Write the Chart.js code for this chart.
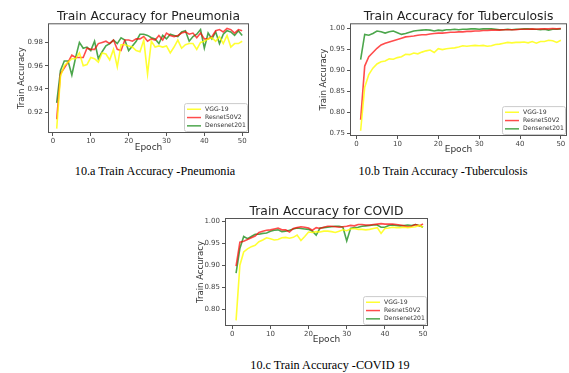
<!DOCTYPE html>
<html>
<head>
<meta charset="utf-8">
<script src="https://cdn.jsdelivr.net/npm/chart.js@4.4.1/dist/chart.umd.min.js"></script>
<style>
body { margin: 0; background: #fff; width: 569px; height: 373px; position: relative; overflow: hidden; }
canvas { position: absolute; }
.cap { position: absolute; font-family: "Liberation Serif", serif; font-size: 12.2px; color: #000; white-space: nowrap; transform: translate(-50%, -50%); }
</style>
</head>
<body>
<canvas id="chartA" style="left:0px;top:0px" width="262" height="160"></canvas>
<canvas id="chartB" style="left:300px;top:0px" width="269" height="163"></canvas>
<canvas id="chartC" style="left:170px;top:195px" width="270" height="160"></canvas>
<div class="cap" style="left:155px;top:171px">10.a Train Accuracy -Pneumonia</div>
<div class="cap" style="left:443px;top:171px">10.b Train Accuracy -Tuberculosis</div>
<div class="cap" style="left:330px;top:365px">10.c Train Accuracy -COVID 19</div>
<script>
// epochs 1..50
const epochs = [1,2,3,4,5,6,7,8,9,10,11,12,13,14,15,16,17,18,19,20,21,22,23,24,25,
26,27,28,29,30,31,32,33,34,35,36,37,38,39,40,41,42,43,44,45,46,47,48,49,50];
const modelNames = ['VGG-19', 'Resnet50V2', 'Densenet201'];
const xTicks = [0, 10, 20, 30, 40, 50];

// Pneumonia
const pneuVgg = [0.906,0.951,0.960,0.963,0.966,0.966,0.971,0.960,0.961,0.967,0.966,0.963,0.971,0.970,0.965,0.974,0.959,0.978,0.978,0.977,
0.976,0.973,0.972,0.982,0.953,0.981,0.976,0.977,0.976,0.977,0.971,0.976,0.982,0.975,0.978,0.979,0.979,0.974,0.980,0.981,
0.983,0.984,0.981,0.985,0.979,0.986,0.976,0.979,0.979,0.981];
const pneuResnet = [0.914,0.953,0.958,0.963,0.969,0.967,0.967,0.967,0.975,0.974,0.974,0.979,0.980,0.981,0.979,0.982,0.974,0.973,0.982,0.982,
0.981,0.983,0.983,0.985,0.981,0.983,0.982,0.986,0.982,0.988,0.986,0.985,0.986,0.988,0.989,0.987,0.988,0.984,0.988,0.983,
0.983,0.985,0.990,0.991,0.989,0.992,0.991,0.988,0.991,0.990];
const pneuDense = [0.928,0.956,0.964,0.964,0.952,0.967,0.980,0.975,0.976,0.973,0.981,0.966,0.972,0.977,0.979,0.982,0.979,0.984,0.982,0.973,
0.977,0.981,0.987,0.987,0.986,0.984,0.983,0.979,0.986,0.983,0.987,0.986,0.985,0.989,0.990,0.981,0.985,0.987,0.991,0.975,
0.988,0.983,0.989,0.979,0.987,0.990,0.989,0.986,0.990,0.986];
const pneuYTicks = [0.92, 0.94, 0.96, 0.98];

// Tuberculosis
const tbVgg = [0.757,0.860,0.890,0.905,0.915,0.920,0.922,0.927,0.926,0.930,0.932,0.938,0.937,0.941,0.939,0.943,0.946,0.948,0.942,0.951,
0.949,0.951,0.952,0.953,0.955,0.958,0.957,0.958,0.959,0.958,0.959,0.957,0.958,0.961,0.962,0.964,0.966,0.965,0.966,0.966,
0.967,0.965,0.968,0.964,0.968,0.968,0.971,0.970,0.966,0.971];
const tbResnet = [0.783,0.910,0.932,0.942,0.952,0.960,0.964,0.967,0.970,0.973,0.976,0.979,0.980,0.981,0.983,0.984,0.984,0.986,0.987,0.988,
0.988,0.989,0.990,0.990,0.991,0.991,0.992,0.992,0.993,0.993,0.994,0.994,0.995,0.995,0.995,0.996,0.996,0.996,0.996,0.997,
0.997,0.997,0.998,0.997,0.998,0.998,0.998,0.999,0.998,0.999];
const tbDense = [0.925,0.985,0.983,0.987,0.993,0.991,0.988,0.991,0.993,0.989,0.985,0.987,0.990,0.993,0.994,0.995,0.996,0.995,0.993,0.995,
0.994,0.996,0.996,0.997,0.996,0.997,0.997,0.998,0.998,0.997,0.998,0.998,0.998,0.997,0.996,0.996,0.997,0.996,0.997,0.997,
0.998,0.998,0.997,0.997,0.996,0.997,0.995,0.997,0.997,0.998];
const tbYTicks = [0.75, 0.80, 0.85, 0.90, 0.95, 1.00];

// COVID
const covVgg = [0.775,0.900,0.930,0.937,0.942,0.945,0.953,0.957,0.962,0.960,0.957,0.958,0.962,0.963,0.961,0.963,0.968,0.956,0.965,0.975,
0.974,0.976,0.975,0.977,0.977,0.976,0.974,0.977,0.980,0.978,0.982,0.983,0.981,0.981,0.980,0.981,0.983,0.985,0.972,0.983,
0.984,0.986,0.985,0.985,0.986,0.985,0.986,0.987,0.990,0.986];
const covResnet = [0.898,0.952,0.954,0.958,0.962,0.966,0.974,0.977,0.979,0.980,0.982,0.984,0.980,0.980,0.975,0.983,0.985,0.987,0.986,0.984,
0.979,0.985,0.983,0.986,0.988,0.988,0.987,0.986,0.987,0.988,0.990,0.989,0.992,0.992,0.991,0.991,0.992,0.993,0.994,0.993,
0.993,0.993,0.992,0.991,0.989,0.987,0.988,0.992,0.989,0.993];
const covDense = [0.882,0.938,0.965,0.960,0.965,0.970,0.970,0.972,0.973,0.977,0.979,0.980,0.976,0.977,0.979,0.982,0.984,0.983,0.982,0.981,
0.977,0.968,0.984,0.985,0.986,0.987,0.988,0.988,0.986,0.955,0.983,0.985,0.986,0.988,0.989,0.990,0.991,0.991,0.986,0.986,
0.990,0.991,0.990,0.989,0.990,0.991,0.990,0.992,0.990,0.986];
const covYTicks = [0.80, 0.85, 0.90, 0.95, 1.00];

const lineColors = ['rgba(255,255,0,0.8)', 'rgba(255,0,0,0.7)', 'rgba(0,128,0,0.7)'];
const fontFamily = '"DejaVu Sans", sans-serif';

// matplotlib style frame around the axes
const framePlugin = {
  id: 'frame',
  afterDraw(chart) {
    const a = chart.chartArea, ctx = chart.ctx;
    ctx.save();
    ctx.strokeStyle = '#555';
    ctx.lineWidth = 1;
    ctx.strokeRect(a.left + 0.5, a.top + 0.5, a.right - a.left - 1, a.bottom - a.top - 1);
    ctx.restore();
  }
};

// legend box in the lower right corner of the axes
const innerLegend = {
  id: 'innerLegend',
  afterDraw(chart) {
    const a = chart.chartArea, ctx = chart.ctx;
    const ds = chart.data.datasets;
    const w = 63, rowH = 8.3, h = ds.length * rowH + 3;
    const x = a.right - w - 2, y = a.bottom - h - 2;
    ctx.save();
    ctx.fillStyle = 'rgba(255,255,255,0.85)';
    ctx.strokeStyle = '#ccc';
    ctx.lineWidth = 1;
    ctx.beginPath();
    ctx.roundRect(x + 0.5, y + 0.5, w, h, 2);
    ctx.fill();
    ctx.stroke();
    ctx.font = '6.1px ' + fontFamily;
    ctx.textBaseline = 'middle';
    ds.forEach((d, i) => {
      const cy = y + 2 + rowH * i + rowH / 2;
      ctx.strokeStyle = d.borderColor;
      ctx.lineWidth = 1.5;
      ctx.beginPath();
      ctx.moveTo(x + 3, cy);
      ctx.lineTo(x + 17, cy);
      ctx.stroke();
      ctx.fillStyle = '#333';
      ctx.fillText(d.label, x + 21, cy);
    });
    ctx.restore();
  }
};

function makeChart(id, title, series, yTicks, cfg) {
  const ctx = document.getElementById(id).getContext('2d');
  return new Chart(ctx, {
    type: 'line',
    data: {
      labels: epochs,
      datasets: series.map((s, i) => ({
        label: modelNames[i],
        data: s,
        borderColor: lineColors[i],
        borderWidth: 1.6,
        pointRadius: 0,
        tension: 0,
        fill: false
      }))
    },
    options: {
      responsive: false,
      animation: false,
      events: [],
      layout: { padding: { top: cfg.padTop, right: cfg.padRight, left: 0, bottom: 0 } },
      plugins: {
        legend: { display: false },
        tooltip: { enabled: false },
        title: {
          display: true,
          text: title,
          fullSize: false,
          color: '#222',
          font: { family: fontFamily, size: 12.3, weight: 'normal', lineHeight: 1 },
          padding: 0
        }
      },
      scales: {
        x: {
          type: 'linear',
          min: cfg.xMin,
          max: cfg.xMax,
          afterBuildTicks: s => { s.ticks = xTicks.map(v => ({ value: v })); },
          afterFit: s => { s.height = cfg.xHeight; },
          border: { display: false },
          grid: { drawOnChartArea: false, drawTicks: true, tickLength: 3, color: '#555' },
          ticks: { color: '#444', font: { family: fontFamily, size: 7 }, padding: 1, maxRotation: 0 },
          title: { display: true, text: 'Epoch', color: '#333', font: { family: fontFamily, size: 9 }, padding: { top: 0, bottom: cfg.xTitlePad } }
        },
        y: {
          min: cfg.yMin,
          max: cfg.yMax,
          afterBuildTicks: s => { s.ticks = yTicks.map(v => ({ value: v })); },
          afterFit: s => { s.width = cfg.yWidth; },
          border: { display: false },
          grid: { drawOnChartArea: false, drawTicks: true, tickLength: 3, color: '#555' },
          ticks: { color: '#444', font: { family: fontFamily, size: 7 }, padding: 2, callback: v => v.toFixed(2) },
          title: { display: true, text: 'Train Accuracy', color: '#333', font: { family: fontFamily, size: 8.5 }, padding: { top: cfg.yTitlePad, bottom: 0 } }
        }
      }
    },
    plugins: [framePlugin, innerLegend]
  });
}

makeChart('chartA', 'Train Accuracy for Pneumonia', [pneuVgg, pneuResnet, pneuDense], pneuYTicks,
  { padTop: 11, padRight: 13, yWidth: 48, xHeight: 27, xTitlePad: 7, yTitlePad: 16.6,
    xMin: -1.3, xMax: 51.8, yMin: 0.9022, yMax: 0.9964 });
makeChart('chartB', 'Train Accuracy for Tuberculosis', [tbVgg, tbResnet, tbDense], tbYTicks,
  { padTop: 11, padRight: 2, yWidth: 50, xHeight: 27, xTitlePad: 7.6, yTitlePad: 18.2,
    xMin: -1.6, xMax: 51.5, yMin: 0.7445, yMax: 1.0112 });
makeChart('chartC', 'Train Accuracy for COVID', [covVgg, covResnet, covDense], covYTicks,
  { padTop: 10.7, padRight: 12, yWidth: 55, xHeight: 29, xTitlePad: 10.3, yTitlePad: 25.6,
    xMin: -1.9, xMax: 51.3, yMin: 0.7623, yMax: 1.0068 });
</script>
</body>
</html>
